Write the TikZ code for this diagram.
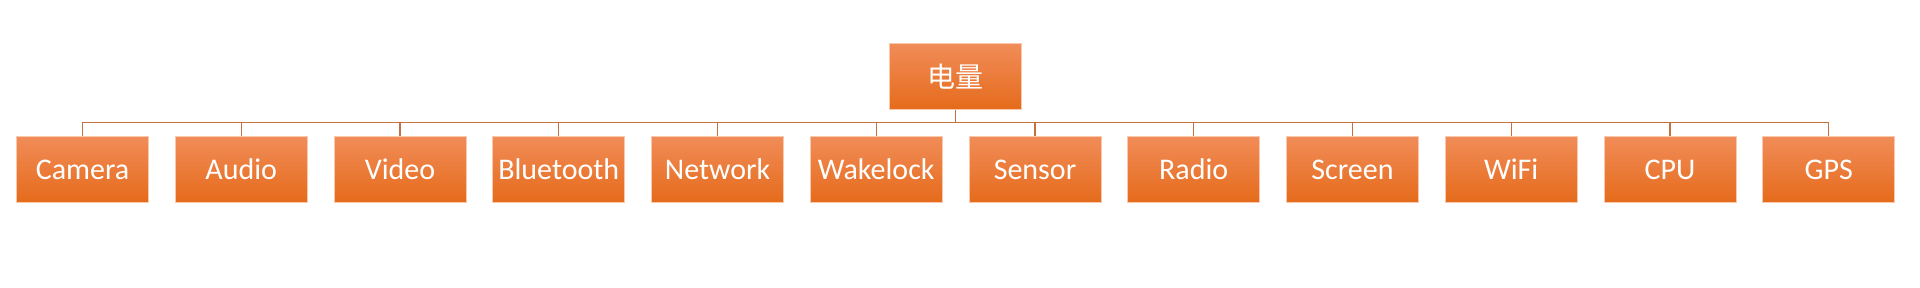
\documentclass[tikz,border=0pt]{standalone}
\usepackage{fontspec}
\setmainfont{Carlito}
\newfontfamily\cjk{Noto Sans CJK SC}
\definecolor{boxtop}{RGB}{241,140,88}
\definecolor{boxmid}{RGB}{245,124,44}
\definecolor{boxbot}{RGB}{229,107,27}
\definecolor{boxline}{RGB}{250,200,170}
\definecolor{linkcol}{RGB}{197,113,62}
\tikzset{
  card/.style={draw=boxline, line width=0.8pt, top color=boxtop, middle color=boxmid, bottom color=boxbot,
    minimum width=132pt, minimum height=66pt, inner sep=0pt, text=white},
  rootbox/.style={card, font=\cjk\fontsize{28}{30}\selectfont},
  leafbox/.style={card, font=\fontsize{30}{32}\selectfont},
  link/.style={draw=linkcol, line width=1.3pt}
}
\begin{document}
\begin{tikzpicture}[x=1pt, y=-1pt]
	\useasboundingbox (0,0) rectangle (1920,287);
	\node[rootbox] (root) at (955.7,76.7) {电量};
	\coordinate (bus) at (0,122.7);
	\foreach \name [count=\i from 0] in {Camera,Audio,Video,Bluetooth,Network,Wakelock,Sensor,Radio,Screen,WiFi,CPU,GPS}
	{
		\node[leafbox] (leaf\i) at (82.5+158.75*\i,169.5) {\name};
		\draw[link] (root.south) -- (root.south |- bus) -| (leaf\i.north);
	}
\end{tikzpicture}
\end{document}
